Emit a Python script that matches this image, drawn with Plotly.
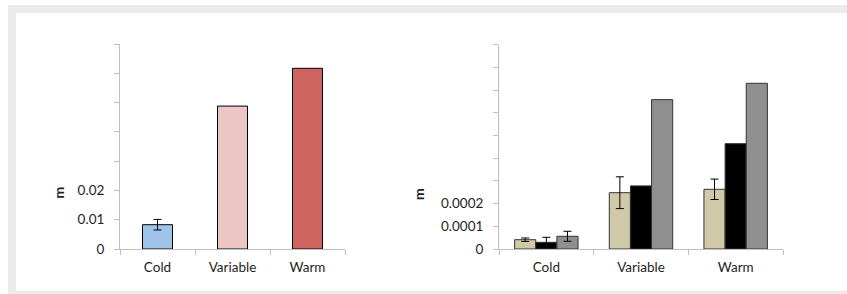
import plotly.graph_objects as go

W, H = 847, 294

# ---- data ----
categories = ["Cold", "Variable", "Warm"]

left_values = [0.0083, 0.0488, 0.0617]
left_errors = [0.0018]            # only Cold has an error bar
left_colors = ["#9fc3e9", "#ecc6c5", "#cd6460"]
left_ticks = [0, 0.01, 0.02, 0.03, 0.04, 0.05, 0.06, 0.07]
left_ticktext = ["0", "0.01", "0.02", "", "", "", "", ""]

tan_values = [0.000041, 0.000248, 0.000263]
tan_errors = [0.0000075, 0.00007, 0.000045]
black_values = [0.0000295, 0.000278, 0.000464]
black_errors = [0.000022]         # only Cold
gray_values = [0.000056, 0.000658, 0.00073]
gray_errors = [0.000022]          # only Cold
right_ticks = [0, 0.0001, 0.0002, 0.0003, 0.0004, 0.0005, 0.0006, 0.0007, 0.0008, 0.0009]
right_ticktext = ["0", "0.0001", "0.0002", "", "", "", "", "", "", ""]


def px_x(x):
    return x / W


def px_y(y):
    return 1 - y / H


FONT = "Lato"
TXT = "#1e1e1e"
AX = "#bfbfbf"

fig = go.Figure()

fig.add_trace(go.Bar(
    x=categories, y=left_values, width=0.4,
    marker=dict(color=left_colors, line=dict(color="#000000", width=1)),
    error_y=dict(type="data", array=left_errors,
                 color="#000000", thickness=1, width=4, visible=True),
    xaxis="x", yaxis="y", showlegend=False,
))

for vals, errs, col in [(tan_values, tan_errors, "#cfc9a8"),
                        (black_values, black_errors, "#000000"),
                        (gray_values, gray_errors, "#8f8f8f")]:
    fig.add_trace(go.Bar(
        x=categories, y=vals,
        marker=dict(color=col, line=dict(color="#333333", width=1)),
        error_y=dict(type="data", array=errs, color="#000000", thickness=1, width=4),
        xaxis="x2", yaxis="y2", showlegend=False,
    ))

common_x = dict(type="category", showline=True, linecolor=AX, linewidth=1,
                ticks="outside", tickson="boundaries", ticklen=5, tickcolor=AX,
                showgrid=False, zeroline=False, automargin=False, ticklabelstandoff=6,
                tickfont=dict(family=FONT, size=13.5, color=TXT), fixedrange=True)
common_y = dict(showline=True, linecolor=AX, linewidth=1, ticks="outside",
                ticklen=5, tickcolor=AX, showgrid=False, zeroline=False, automargin=False,
                ticklabelstandoff=7,
                tickfont=dict(family=FONT, size=13.5, color=TXT), fixedrange=True)

fig.update_layout(
    width=W, height=H, autosize=False,
    margin=dict(l=0, r=0, t=0, b=0, pad=0),
    paper_bgcolor="#ffffff",
    plot_bgcolor="rgba(0,0,0,0)",
    barmode="group", bargap=0.33, bargroupgap=0,
    xaxis=dict(domain=[px_x(120), px_x(345)], anchor="y", **common_x),
    yaxis=dict(domain=[px_y(249), px_y(44)], anchor="x", range=[0, 0.07],
               tickmode="array", tickvals=left_ticks, ticktext=left_ticktext, **common_y),
    xaxis2=dict(domain=[px_x(499), px_x(783)], anchor="y2", **common_x),
    yaxis2=dict(domain=[px_y(249), px_y(44.7)], anchor="x2", range=[0, 0.0009],
                tickmode="array", tickvals=right_ticks, ticktext=right_ticktext, **common_y),
    shapes=[
        dict(type="rect", xref="paper", yref="paper", layer="below",
             x0=px_x(8), x1=px_x(900), y0=px_y(300), y1=px_y(5),
             fillcolor="#ebebeb", line=dict(width=0)),
        dict(type="rect", xref="paper", yref="paper", layer="below",
             x0=px_x(16), x1=px_x(900), y0=px_y(290.7), y1=px_y(13),
             fillcolor="#ffffff", line=dict(width=0)),
    ],
    annotations=[
        dict(text="<b>m</b>", x=px_x(58.5), y=px_y(192), xref="paper", yref="paper",
             showarrow=False, textangle=-90, font=dict(family=FONT, size=14, color=TXT),
             xanchor="center", yanchor="middle"),
        dict(text="<b>m</b>", x=px_x(418), y=px_y(194), xref="paper", yref="paper",
             showarrow=False, textangle=-90, font=dict(family=FONT, size=14, color=TXT),
             xanchor="center", yanchor="middle"),
    ],
)

fig.write_html("out.html",
               config={"responsive": False, "displayModeBar": False, "staticPlot": True},
               post_script="document.body.style.margin='0';document.body.style.overflow='hidden';")
